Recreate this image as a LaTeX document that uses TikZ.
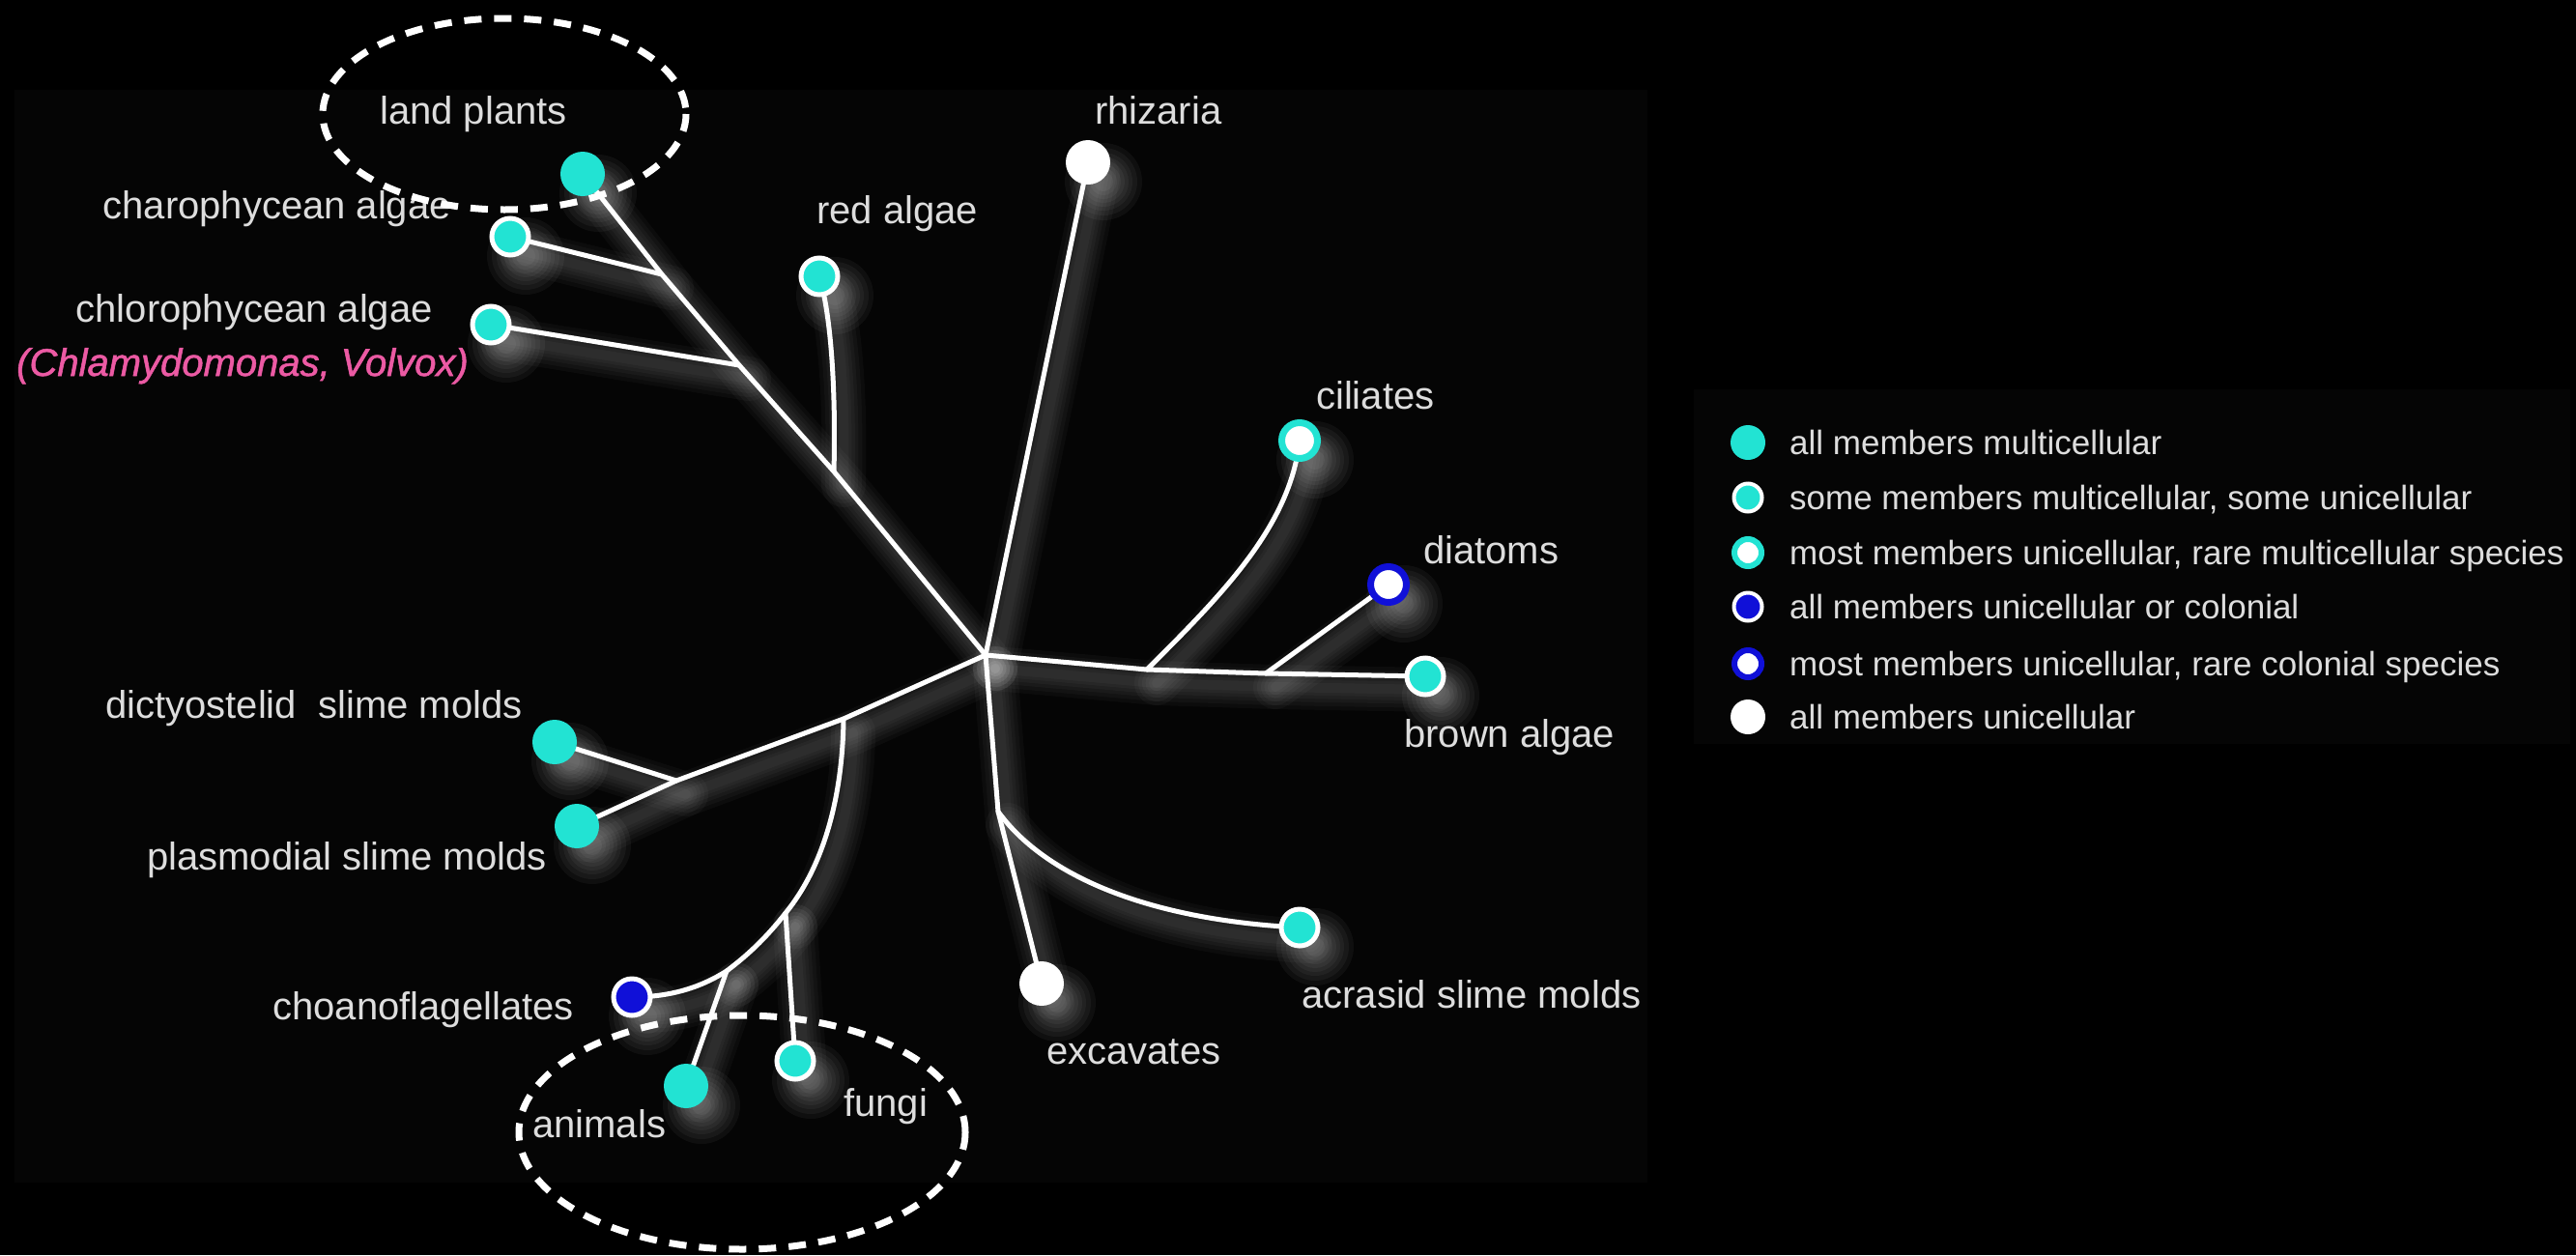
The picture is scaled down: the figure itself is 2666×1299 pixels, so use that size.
\documentclass[tikz,border=0pt]{standalone}
\usepackage{fontspec}
\setmainfont{Liberation Sans}
\newfontfamily\pinkfont[FakeBold=1.3]{Liberation Sans}
\definecolor{panel}{HTML}{050505}
\definecolor{cyanm}{HTML}{22E3D3}
\definecolor{bluem}{HTML}{1010D8}
\definecolor{txt}{HTML}{DDDDDD}
\definecolor{pinkm}{HTML}{EC5AA4}
\pgfdeclarelayer{back}
\pgfdeclarelayer{edges}
\pgfsetlayers{back,edges,main}
\newcommand\treeedges[1]{%
  \draw[#1] (c) -- (jRed) -- (jChl) -- (jCha) -- (land.center);
  \draw[#1] (jCha) -- (cha.center);
  \draw[#1] (jChl) -- (chl.center);
  \draw[#1] (jRed) .. controls (865,410) and (861,330) .. (red.center);
  \draw[#1] (c) -- (rhi.center);
  \draw[#1] (c) -- (jCil) -- (jDia) -- (brown.center);
  \draw[#1] (jCil) .. controls (1265,615) and (1335,545) .. (cil.center);
  \draw[#1] (jDia) -- (dia.center);
  \draw[#1] (c) -- (jExc) -- (exc.center);
  \draw[#1] (jExc) .. controls (1080,905) and (1185,952) .. (acr.center);
  \draw[#1] (c) -- (jOpis) -- (jSlime) -- (pla.center);
  \draw[#1] (jSlime) -- (dic.center);
  \draw[#1] (jOpis) .. controls (872,830) and (850,900) .. (jFun);
  \draw[#1] (jFun) .. controls (792,972) and (772,990) .. (jAni);
  \draw[#1] (jAni) .. controls (722,1024) and (690,1032) .. (cho.center);
  \draw[#1] (jFun) -- (fun.center);
  \draw[#1] (jAni) -- (ani.center);
}
\begin{document}
\begin{tikzpicture}[x=1pt,y=-1pt,
  lbl/.style={text=txt, font=\fontsize{40}{48}\selectfont, inner sep=0pt},
  leg/.style={text=txt, font=\fontsize{35}{42}\selectfont, inner sep=0pt, anchor=base west},
  branch/.style={draw=white, line width=5pt, line cap=round, line join=round},
  glowl/.style={draw=white, opacity=0.03, line cap=round, line join=round},
  multi/.style={circle, inner sep=0pt, fill=cyanm, minimum size=46pt},
  some/.style={circle, inner sep=0pt, fill=cyanm, draw=white, line width=5pt, minimum size=38pt},
  rarem/.style={circle, inner sep=0pt, fill=white, draw=cyanm, line width=7pt, minimum size=37pt},
  unicol/.style={circle, inner sep=0pt, fill=bluem, draw=white, line width=5pt, minimum size=38pt},
  rarec/.style={circle, inner sep=0pt, fill=white, draw=bluem, line width=7pt, minimum size=37pt},
  uni/.style={circle, inner sep=0pt, fill=white, minimum size=46pt},
  ringd/.style={draw=white, line width=7pt, dash pattern=on 18pt off 13pt},
]
\useasboundingbox (0,0) rectangle (2666,1299);
\begin{pgfonlayer}{back}
  \fill[black] (0,0) rectangle (2666,1299);
  \fill[panel] (15,93) rectangle (1705,1224);
  \fill[panel] (1753,403) rectangle (2660,770);
\end{pgfonlayer}

% branch points
\coordinate (c) at (1020,678);
\coordinate (jRed) at (863,488);
\coordinate (jChl) at (765,378);
\coordinate (jCha) at (685,284);
\coordinate (jOpis) at (873,744);
\coordinate (jSlime) at (700,808);
\coordinate (jFun) at (813,945);
\coordinate (jAni) at (752,1005);
\coordinate (jExc) at (1033,840);
\coordinate (jCil) at (1187,693);
\coordinate (jDia) at (1310,697);

% leaves
\node[multi] (land) at (603,180) {};
\node[some] (cha) at (528,245) {};
\node[some] (chl) at (508,336) {};
\node[some] (red) at (848,286) {};
\node[uni] (rhi) at (1126,168) {};
\node[rarem] (cil) at (1345,456) {};
\node[rarec] (dia) at (1437,605) {};
\node[some] (brown) at (1475,700) {};
\node[some] (acr) at (1345,960) {};
\node[uni] (exc) at (1078,1018) {};
\node[some] (fun) at (823,1098) {};
\node[multi] (ani) at (710,1124) {};
\node[unicol] (cho) at (654,1032) {};
\node[multi] (pla) at (597,855) {};
\node[multi] (dic) at (574,768) {};

\begin{pgfonlayer}{edges}
  \foreach \n in {land,cha,chl,red,rhi,cil,dia,brown,acr,exc,fun,ani,cho,pla,dic}{
    \foreach \r in {40,35,30,26,22,18,14,10}{
      \fill[white,opacity=0.045] ([shift={(16,20)}]\n.center) circle[radius=\r pt];
    }
  }
  \begin{scope}[transform canvas={shift={(10pt,-14pt)}}]
    \foreach \w in {46,38,30,23,16,10}{
      \treeedges{glowl, line width=\w pt}
    }
  \end{scope}
  \treeedges{branch}
\end{pgfonlayer}

% labels
\node[lbl, anchor=base] (tland) at (490,128) {land plants};
\node[lbl, anchor=base east] (tcha) at (467,226) {charophycean algae};
\node[lbl, anchor=base east] (tchl) at (448,333) {chlorophycean algae};
\node[lbl, anchor=base west, text=pinkm, font=\fontsize{40}{48}\selectfont\pinkfont\itshape] (tchl2) at (17,389) {(Chlamydomonas, Volvox)};
\node[lbl, anchor=base west] (tred) at (845,231) {red algae};
\node[lbl, anchor=base west] (trhi) at (1133,128) {rhizaria};
\node[lbl, anchor=base west] (tcil) at (1362,423) {ciliates};
\node[lbl, anchor=base west] (tdia) at (1473,583) {diatoms};
\node[lbl, anchor=base west] (tbrown) at (1453,773) {brown algae};
\node[lbl, anchor=base west] (tacr) at (1347,1043) {acrasid slime molds};
\node[lbl, anchor=base west] (texc) at (1083,1101) {excavates};
\node[lbl, anchor=base west] (tfun) at (873,1155) {fungi};
\node[lbl, anchor=base west] (tani) at (551,1177) {animals};
\node[lbl, anchor=base east] (tcho) at (594,1055) {choanoflagellates};
\node[lbl, anchor=base west] (tdic) at (109,743) {dictyostelid\ \ slime molds};
\node[lbl, anchor=base west] (tpla) at (152,900) {plasmodial slime molds};

% legend
\node[multi, minimum size=36pt] (lg1) at (1809,458) {};
\node[some, minimum size=29pt, line width=4pt] (lg2) at (1809,515) {};
\node[rarem, minimum size=28pt, line width=6pt] (lg3) at (1809,572) {};
\node[unicol, minimum size=29pt, line width=4pt] (lg4) at (1809,628) {};
\node[rarec, minimum size=28pt, line width=6pt] (lg5) at (1809,687) {};
\node[uni, minimum size=36pt] (lg6) at (1809,742) {};
\node[leg] (lt1) at (1852,470) {all members multicellular};
\node[leg] (lt2) at (1852,527) {some members multicellular, some unicellular};
\node[leg] (lt3) at (1852,584) {most members unicellular, rare multicellular species};
\node[leg] (lt4) at (1852,640) {all members unicellular or colonial};
\node[leg] (lt5) at (1852,699) {most members unicellular, rare colonial species};
\node[leg] (lt6) at (1852,754) {all members unicellular};

% dashed highlight ellipses
\draw[ringd] (522,118) ellipse [x radius=188, y radius=99];
\draw[ringd] (768,1172) ellipse [x radius=231, y radius=121];
\end{tikzpicture}
\end{document}
